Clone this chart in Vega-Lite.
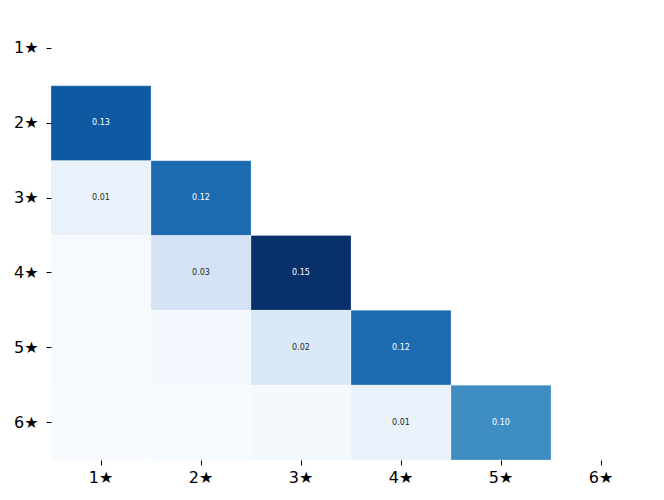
{
  "$schema": "https://vega.github.io/schema/vega-lite/v6.json",
  "autosize": "none",
  "padding": {"left": 51, "top": 11, "right": 13, "bottom": 40},
  "width": 600,
  "height": 449,
  "background": "white",
  "config": {"view": {"stroke": null}, "font": "DejaVu Sans"},
  "data": {"values": [
    {"row": "2★", "col": "1★", "value": 0.126},
    {"row": "3★", "col": "1★", "value": 0.011},
    {"row": "3★", "col": "2★", "value": 0.116},
    {"row": "4★", "col": "1★", "value": 0.002},
    {"row": "4★", "col": "2★", "value": 0.028},
    {"row": "4★", "col": "3★", "value": 0.150},
    {"row": "5★", "col": "1★", "value": 0.0015},
    {"row": "5★", "col": "2★", "value": 0.004},
    {"row": "5★", "col": "3★", "value": 0.022},
    {"row": "5★", "col": "4★", "value": 0.116},
    {"row": "6★", "col": "1★", "value": 0.0005},
    {"row": "6★", "col": "2★", "value": 0.001},
    {"row": "6★", "col": "3★", "value": 0.003},
    {"row": "6★", "col": "4★", "value": 0.011},
    {"row": "6★", "col": "5★", "value": 0.096}
  ]},
  "encoding": {
    "x": {"field": "col", "type": "nominal", "sort": ["1★","2★","3★","4★","5★","6★"],
      "scale": {"domain": ["1★","2★","3★","4★","5★","6★"], "paddingInner": 0, "paddingOuter": 0},
      "axis": {"title": null, "labelAngle": 0, "domain": false, "tickSize": 5, "tickColor": "black", "tickWidth": 1, "labelPadding": 4, "labelFontSize": 16, "labelColor": "black", "labelFont": "DejaVu Sans"}},
    "y": {"field": "row", "type": "nominal",
      "scale": {"domain": ["1★","2★","3★","4★","5★","6★"], "paddingInner": 0, "paddingOuter": 0},
      "axis": {"title": null, "domain": false, "tickSize": 5, "tickColor": "black", "tickWidth": 1, "labelPadding": 8, "labelFontSize": 16, "labelColor": "black", "labelFont": "DejaVu Sans"}}
  },
  "layer": [
    {
      "mark": {"type": "rect", "stroke": "white", "strokeWidth": 0.4, "strokeOpacity": 0.6},
      "encoding": {
        "color": {"field": "value", "type": "quantitative",
          "scale": {"domain": [0.0005, 0.0191, 0.0377, 0.0563, 0.0749, 0.0936, 0.1122, 0.1308, 0.15],
                    "range": ["#f7fbff", "#deebf7", "#c6dbef", "#9ecae1", "#6baed6", "#4292c6", "#2171b5", "#08519c", "#08306b"],
                    "interpolate": "rgb"},
          "legend": null}
      }
    },
    {
      "transform": [{"filter": "datum.value >= 0.005"}],
      "mark": {"type": "text", "fontSize": 8, "font": "DejaVu Sans"},
      "encoding": {
        "text": {"field": "value", "type": "quantitative", "format": ".2f"},
        "color": {"condition": {"test": "datum.value > 0.075", "value": "white"}, "value": "#262626"}
      }
    }
  ]
}
